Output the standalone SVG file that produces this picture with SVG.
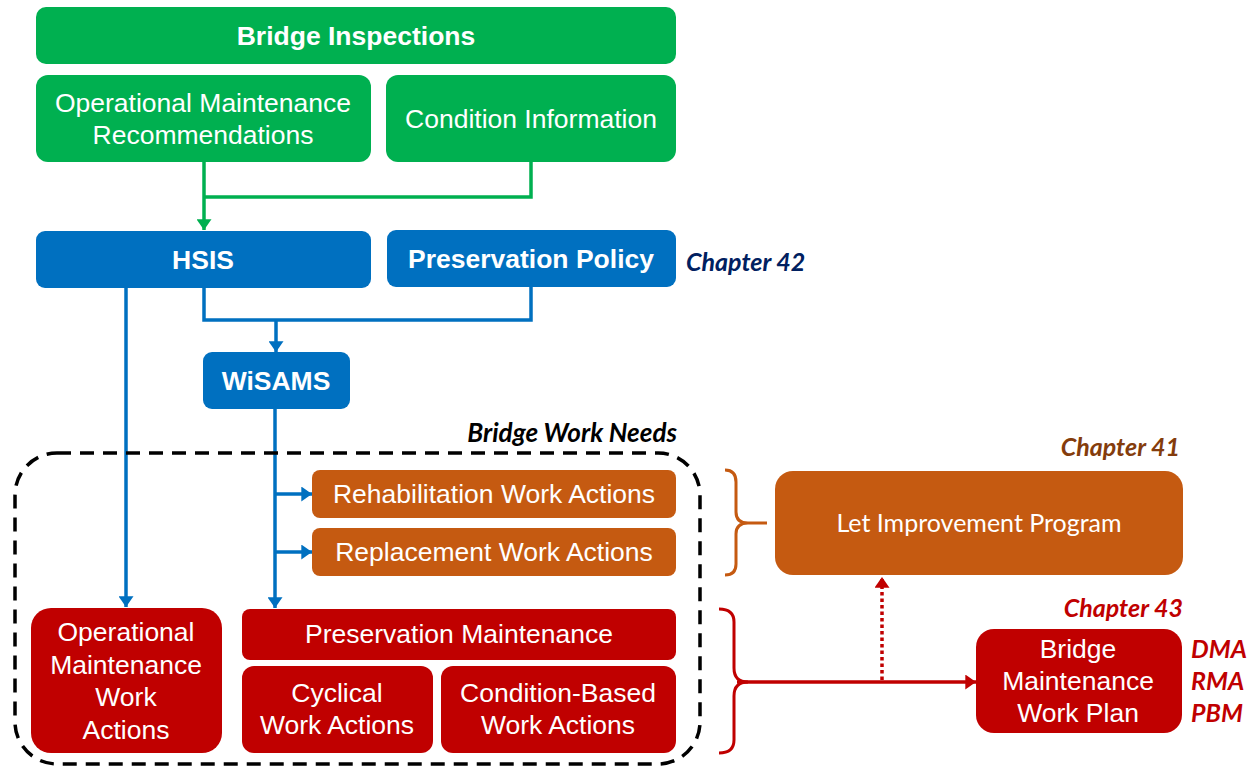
<svg xmlns="http://www.w3.org/2000/svg" width="1254" height="767" viewBox="0 0 1254 767">
<style>
.g{fill:#00B050}.b{fill:#0070C0}.o{fill:#C55A11}.r{fill:#C00000}
.t{font-family:"Liberation Sans",Arial,sans-serif;font-size:26.5px;fill:#fff;text-anchor:middle}
.tb{font-family:"Liberation Sans",Arial,sans-serif;font-size:26.5px;font-weight:bold;fill:#fff;text-anchor:middle}
.c{font-family:Lato,"Open Sans",sans-serif;font-weight:bold;font-style:italic;font-size:25px}
.cl{font-family:Lato,"Open Sans",sans-serif;font-size:25px;fill:#fff;text-anchor:middle}
</style>
<defs>
<marker id="ab" viewBox="0 0 10 14" markerWidth="11" markerHeight="15" refX="10" refY="7" orient="auto" markerUnits="userSpaceOnUse"><path d="M0,0 L10,7 L0,14 z" fill="#0070C0"/></marker>
<marker id="ag2" viewBox="0 0 10 14" markerWidth="11" markerHeight="15" refX="10" refY="7" orient="auto" markerUnits="userSpaceOnUse"><path d="M0,0 L10,7 L0,14 z" fill="#00B050"/></marker>
<marker id="ar" viewBox="0 0 10 14" markerWidth="11" markerHeight="15" refX="10" refY="7" orient="auto" markerUnits="userSpaceOnUse"><path d="M0,0 L10,7 L0,14 z" fill="#C00000"/></marker>
</defs>

<g id="connectors" fill="none" stroke-width="3.5">
<path d="M531,162 V197 H204" stroke="#00B050"/>
<path d="M204,162 V230" stroke="#00B050" marker-end="url(#ag2)"/>
<path d="M204,288 V320 H531 V287" stroke="#0070C0"/>
<path d="M276,320 V352" stroke="#0070C0" marker-end="url(#ab)"/>
<path d="M126,288 V607" stroke="#0070C0" marker-end="url(#ab)"/>
<path d="M275,409 V608" stroke="#0070C0" marker-end="url(#ab)"/>
<path d="M275,494 H312" stroke="#0070C0" marker-end="url(#ab)"/>
<path d="M275,552 H312" stroke="#0070C0" marker-end="url(#ab)"/>
<path d="M737,682 H976" stroke="#C00000" marker-end="url(#ar)"/>
<path d="M882,680 V577" stroke="#C00000" stroke-dasharray="3.5,3" marker-end="url(#ar)"/>
<path d="M725,470 Q736,470 736,482 V512 Q736,523 748,523 H767 M748,523 Q736,523 736,534 V564 Q736,575 725,575" stroke="#C55A11" stroke-width="3"/>
<path d="M719,609 Q734,609 734,622 V668 Q734,682 748,682 M748,682 Q734,682 734,696 V740 Q734,753 719,753" stroke="#C00000" stroke-width="3"/>
</g>

<g id="bridge-work-needs">
<rect x="15" y="453" width="685" height="311" rx="42" fill="none" stroke="#000" stroke-width="3.5" stroke-dasharray="14,9"/>
<text x="677" y="442" class="c" text-anchor="end" fill="#000" style="font-size:26px">Bridge Work Needs</text>
</g>

<g id="bridge-inspections"><rect x="36" y="7" width="640" height="57" rx="10" class="g"/><text x="356" y="45" class="tb">Bridge Inspections</text></g>
<g id="op-maint-rec"><rect x="36" y="75" width="335" height="87" rx="12" class="g"/><text x="203" y="112" class="t">Operational Maintenance</text><text x="203" y="144" class="t">Recommendations</text></g>
<g id="condition-info"><rect x="386" y="75" width="290" height="87" rx="12" class="g"/><text x="531" y="128" class="t">Condition Information</text></g>

<g id="hsis"><rect x="36" y="231" width="335" height="57" rx="9" class="b"/><text x="203" y="269" class="tb">HSIS</text></g>
<g id="preservation-policy"><rect x="387" y="230" width="289" height="57" rx="9" class="b"/><text x="531" y="268" class="tb">Preservation Policy</text></g>
<text id="chapter-42" x="686" y="271" class="c" fill="#002060">Chapter 42</text>
<g id="wisams"><rect x="203" y="352" width="147" height="57" rx="9" class="b"/><text x="276" y="390" class="tb">WiSAMS</text></g>

<g id="rehab"><rect x="312" y="470" width="364" height="48" rx="8" class="o"/><text x="494" y="503" class="t">Rehabilitation Work Actions</text></g>
<g id="replacement"><rect x="312" y="528" width="364" height="48" rx="8" class="o"/><text x="494" y="561" class="t">Replacement Work Actions</text></g>

<g id="op-maint-work"><rect x="31" y="608" width="191" height="145" rx="20" class="r"/>
<text x="126" y="641" class="t">Operational</text><text x="126" y="674" class="t">Maintenance</text><text x="126" y="706" class="t">Work</text><text x="126" y="739" class="t">Actions</text></g>
<g id="preservation-maint"><rect x="242" y="609" width="434" height="51" rx="8" class="r"/><text x="459" y="643" class="t">Preservation Maintenance</text></g>
<g id="cyclical"><rect x="242" y="666" width="191" height="87" rx="12" class="r"/><text x="337" y="702" class="t">Cyclical</text><text x="337" y="734" class="t">Work Actions</text></g>
<g id="condition-based"><rect x="441" y="666" width="235" height="87" rx="12" class="r"/><text x="558" y="702" class="t">Condition-Based</text><text x="558" y="734" class="t">Work Actions</text></g>

<text id="chapter-41" x="1180" y="456" class="c" text-anchor="end" fill="#843C0C">Chapter 41</text>
<g id="let-program"><rect x="775" y="471" width="408" height="104" rx="18" class="o"/><text x="979" y="532" class="cl">Let Improvement Program</text></g>

<text id="chapter-43" x="1183" y="617" class="c" text-anchor="end" fill="#C00000">Chapter 43</text>
<g id="bmwp"><rect x="976" y="629" width="206" height="104" rx="18" class="r"/>
<text x="1078" y="658" class="t">Bridge</text><text x="1078" y="690" class="t">Maintenance</text><text x="1078" y="722" class="t">Work Plan</text></g>
<g id="programs" class="c" fill="#C00000"><text x="1191" y="658">DMA</text><text x="1191" y="690">RMA</text><text x="1191" y="722">PBM</text></g>
</svg>
